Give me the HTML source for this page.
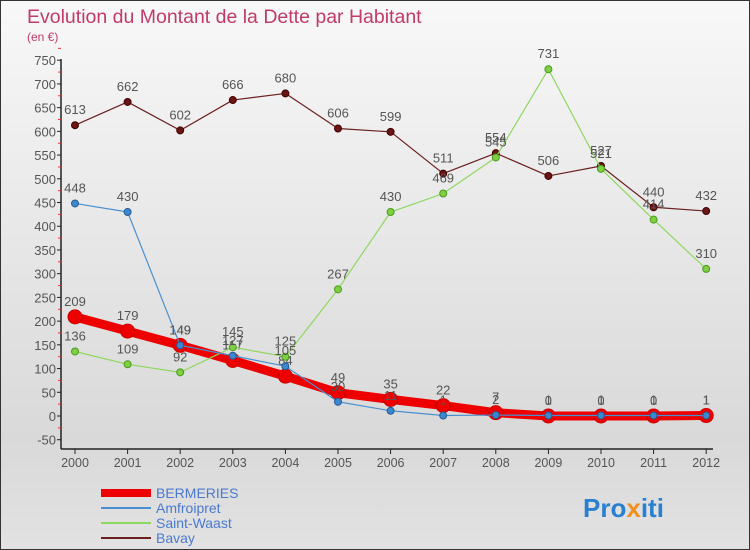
<!DOCTYPE html>
<html><head><meta charset="utf-8"><style>
body{margin:0;width:750px;height:550px;overflow:hidden;font-family:"Liberation Sans",sans-serif}
#wrap{position:relative;width:748px;height:548px;border:1px solid #333;background:linear-gradient(#f8f8f8,#d9d9d9 80%,#e2e2e2)}
</style></head><body>
<div id="wrap">
<svg id="chart" width="748" height="548" style="position:absolute;left:0;top:0"></svg>
</div>
<script>
const years=["2000","2001","2002","2003","2004","2005","2006","2007","2008","2009","2010","2011","2012"];
const bermeries=[209,179,149,117,84,49,35,22,7,0,0,0,1];
const amfroipret=[448,430,149,127,105,30,11,1,2,1,1,1,1];
const saintWaast=[136,109,92,145,125,267,430,469,545,731,521,414,310];
const bavay=[613,662,602,666,680,606,599,511,554,506,527,440,432];
const yTicks=[-50,0,50,100,150,200,250,300,350,400,450,500,550,600,650,700,750];
const NS="http://www.w3.org/2000/svg";
const svg=document.getElementById('chart');
function X(i){return 74+i*52.6;}
function Y(v){return 415-v*0.4744;}
function el(t,a,p){const e=document.createElementNS(NS,t);for(const k in a)e.setAttribute(k,a[k]);(p||svg).appendChild(e);return e;}
function txt(s,a){const e=el('text',a);e.textContent=s;return e;}
let t=txt('Evolution du Montant de la Dette par Habitant',{x:26,y:22,'font-size':19.5,fill:'#c03a6a'});

t=txt('(en €)',{x:26,y:40,'font-size':12,fill:'#c03a6a'});

let a=el('line',{x1:60,y1:58,x2:60,y2:448,stroke:'#222','stroke-width':1.5});

a=el('line',{x1:60,y1:448,x2:712,y2:448,stroke:'#222','stroke-width':1.5});

yTicks.forEach(v=>{
 el('line',{x1:56,y1:Y(v),x2:60,y2:Y(v),stroke:'#222'});
 el('line',{x1:57,y1:Y(v+25),x2:60,y2:Y(v+25),stroke:'#e33'});
 const l=txt(String(v),{x:55,y:Y(v)+5,'font-size':13,'text-anchor':'end',fill:'#555'});
 
});
years.forEach((y,i)=>{
 el('line',{x1:X(i),y1:448,x2:X(i),y2:453,stroke:'#222'});
 const l=txt(y,{x:X(i),y:466,'font-size':12.5,'text-anchor':'middle',fill:'#555'});
 
});
function series(name,data,color,w,r,mfill,mstroke){
 const g=el('g',{});
 
 el('polyline',{points:data.map((v,i)=>X(i)+','+Y(v)).join(' '),fill:'none',stroke:color,'stroke-width':w,'stroke-linejoin':'round'},g);
 data.forEach((v,i)=>{
  const c=el('circle',{cx:X(i),cy:Y(v),r:r,fill:mfill,stroke:mstroke,'stroke-width':1},g);
  
  const l=txt(String(v),{x:X(i),y:Y(v)-11,'font-size':13,'text-anchor':'middle',fill:'#555'},g);
  
 });
}
series('bermeries',bermeries,'#ee0000',9,7,'#ee0000','#c00');
series('bavay',bavay,'#6a2020',1.2,3.5,'#6a1515','#400');
series('saint-waast',saintWaast,'#8ed860',1.2,3.5,'#7ed040','#4a9a20');
series('amfroipret',amfroipret,'#4a90d0',1.2,3.5,'#3a88d0','#2a5a90');
const leg=[['BERMERIES','#ee0000',8],['Amfroipret','#4a90d0',2],['Saint-Waast','#8ed860',2],['Bavay','#6a2020',2]];
leg.forEach((d,i)=>{
 const g=el('g',{});
 
 const y=492+i*15;
 el('line',{x1:100,y1:y,x2:150,y2:y,stroke:d[1],'stroke-width':d[2]},g);
 txt(d[0],{x:155,y:y+5,'font-size':14,fill:'#4a7ad0'},g);
});
const logo=el('text',{x:582,y:516,'font-size':26,'font-weight':'bold',fill:'#f09020'});

[['Pro','#2a80d0'],['x','#f09020'],['iti','#2a80d0']].forEach(p=>{const s=el('tspan',{fill:p[1]},logo);s.textContent=p[0];});
</script>
</body></html>
